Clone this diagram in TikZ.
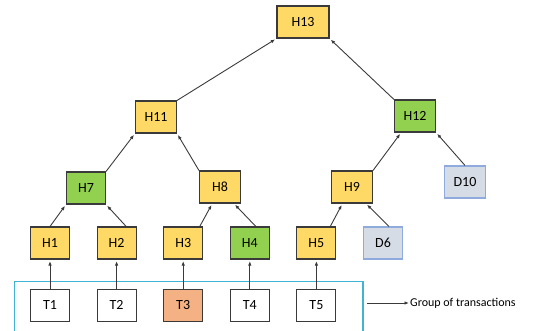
\documentclass[tikz,border=0pt]{standalone}
\usepackage{fontspec}
\setmainfont{Carlito}
\usepackage{tikz}
\usetikzlibrary{arrows.meta, positioning, calc}

\definecolor{hashyellow}{HTML}{FFD966}
\definecolor{proofgreen}{HTML}{92D050}
\definecolor{datafill}{HTML}{D6DCE5}
\definecolor{dataline}{HTML}{8FAADC}
\definecolor{txorange}{HTML}{F4B183}
\definecolor{edgegray}{HTML}{3A3A3A}
\definecolor{groupcyan}{HTML}{3FB4D4}

\begin{document}
\begin{tikzpicture}[
	x=1pt, y=1pt,
	node distance=29pt and 26.5pt,
	font=\fontsize{14}{16}\selectfont,
	box/.style={draw=edgegray, line width=1.1pt, minimum width=39pt, minimum height=32pt, inner sep=2pt},
	hashbox/.style={box, fill=hashyellow},
	proofbox/.style={box, fill=proofgreen},
	databox/.style={box, draw=dataline, fill=datafill},
	txbox/.style={box, fill=white},
	arrow/.style={-{Latex[length=4.5pt, width=3.5pt]}, edgegray, line width=0.9pt, shorten >=1.5pt},
	groupline/.style={draw=groupcyan, line width=1.6pt}
]
\useasboundingbox (0,0) rectangle (534,330);

% Nodes
\node[hashbox, minimum width=52pt] (h13) at (303,308) {H13};
\node[hashbox, minimum width=41pt] (h11) at (156,213) {H11};
\node[proofbox, minimum width=41pt] (h12) at (415,214) {H12};
\node[proofbox] (h7) at (86,142) {H7};
\node[hashbox, minimum width=41pt] (h8) at (220,143) {H8};
\node[hashbox, minimum width=41pt] (h9) at (352,143) {H9};
\node[databox, minimum width=41pt] (d10) at (465,148) {D10};

\node[hashbox] (h1) at (50,87) {H1};
\node[hashbox, right=of h1] (h2) {H2};
\node[hashbox, right=of h2] (h3) {H3};
\node[proofbox, right=of h3] (h4) {H4};
\node[hashbox, right=of h4] (h5) {H5};
\node[databox, right=of h5] (d6) {D6};

\node[txbox, below=of h1] (t1) {T1};
\node[txbox, below=of h2] (t2) {T2};
\node[txbox, fill=txorange, below=of h3] (t3) {T3};
\node[txbox, below=of h4] (t4) {T4};
\node[txbox, below=of h5] (t5) {T5};

% Group of transactions (open at the bottom edge of the page)
\draw[groupline] ($(t1.south west)+(-15.5,-20)$) |- ($(t5.north east)+(26.5,7)$) -- ($(t5.south east)+(26.5,-20)$);
\coordinate (grp) at (367,27);
\node[right, inner sep=0pt, font=\fontsize{12}{14}\selectfont] (grplabel) at (410,27) {Group of transactions};

% Edges
\draw[arrow] (t1) -- (h1);
\draw[arrow] (t2) -- (h2);
\draw[arrow] (t3) -- (h3);
\draw[arrow] (t4) -- (h4);
\draw[arrow] (t5) -- (h5);

\draw[arrow] (h1.north) -- (h7.south west);
\draw[arrow] (h2.60) -- (h7.south east);
\draw[arrow] (h3.45) -- (h8.-115);
\draw[arrow] (h4.70) -- (h8.-50);
\draw[arrow] (h5.50) -- (h9.-120);
\draw[arrow] (d6.70) -- (h9.-50);

\draw[arrow] (h7.north east) -- (h11.south west);
\draw[arrow] (h8.north west) -- (h11.south east);
\draw[arrow] (h9.north east) -- (h12.-130);
\draw[arrow] (d10.north) -- (h12.south east);

\draw[arrow] (h11.north east) -- (h13.south west);
\draw[arrow] (h12.north west) -- (h13.south east);

\draw[arrow, shorten >=1pt] (grp) -- (grplabel);

\end{tikzpicture}
\end{document}
